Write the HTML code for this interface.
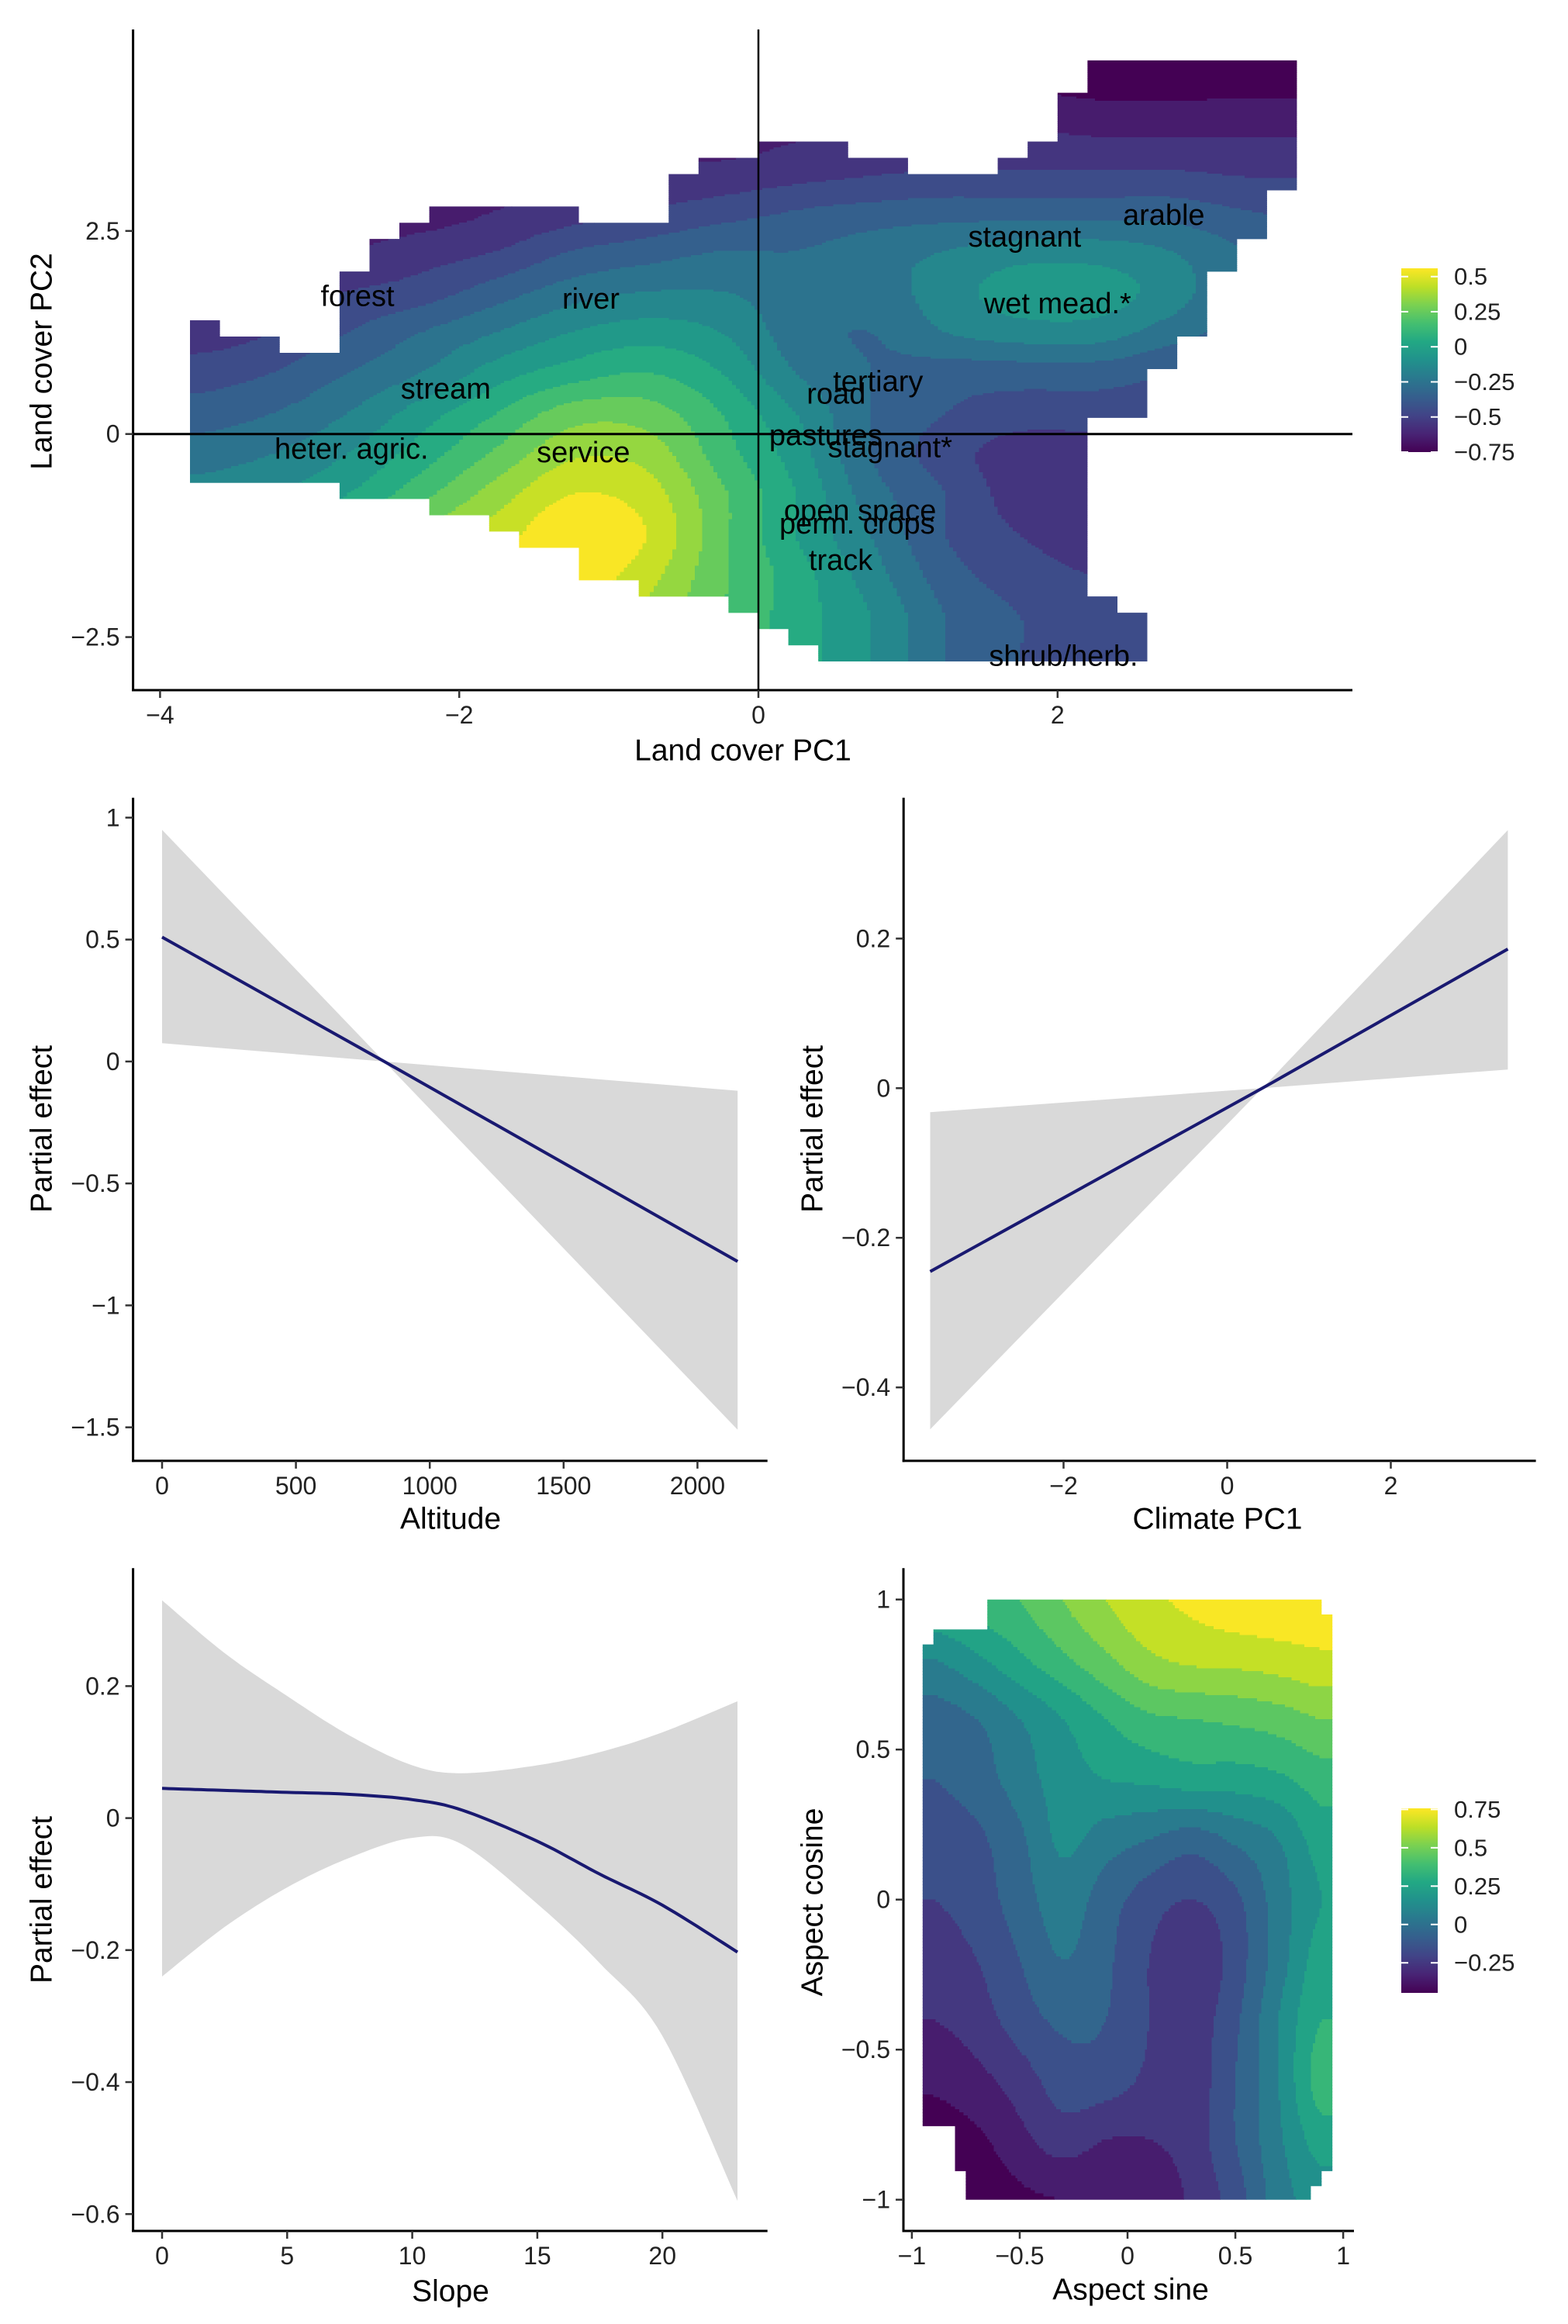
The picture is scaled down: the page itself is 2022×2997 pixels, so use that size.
<!DOCTYPE html>
<html>
<head>
<meta charset="utf-8">
<style>
  html, body { margin:0; padding:0; background:#fff; }
  svg { display:block; font-family:"Liberation Sans", "DejaVu Sans", sans-serif; }
</style>
</head>
<body>
<svg id="fig" width="2022" height="2997" viewBox="0 0 2022 2997" xmlns="http://www.w3.org/2000/svg">
  <rect x="0" y="0" width="2022" height="2997" fill="#ffffff"/>
  <defs>
    <linearGradient id="vir" x1="0" y1="1" x2="0" y2="0">
      <stop offset="0" stop-color="#440154"/><stop offset="0.1" stop-color="#482475"/>
      <stop offset="0.2" stop-color="#414487"/><stop offset="0.3" stop-color="#355f8d"/>
      <stop offset="0.4" stop-color="#2a788e"/><stop offset="0.5" stop-color="#21918c"/>
      <stop offset="0.6" stop-color="#22a884"/><stop offset="0.7" stop-color="#44bf70"/>
      <stop offset="0.8" stop-color="#7ad151"/><stop offset="0.9" stop-color="#bddf26"/>
      <stop offset="1" stop-color="#fde725"/>
    </linearGradient>
  </defs>
  <g id="layer"></g>
</svg>
<script>
// ---------------- DATA ----------------
const lcX = [-3.75,-3.25,-2.75,-2.25,-1.75,-1.25,-0.75,-0.25,0.25,0.75,1.25,1.75,2.25,2.75,3.25,3.75];
const lcY = [4.25,3.75,3.25,2.75,2.25,1.75,1.25,0.75,0.25,-0.25,-0.75,-1.25,-1.75,-2.25,-2.75];
const lcZ = [
 [-.6,-.6,-.65,-.7,-.7,-.7,-.7,-.7,-.7,-.7,-.7,-.7,-.72,-.72,-.72,-.72],
 [-.6,-.6,-.65,-.7,-.7,-.65,-.65,-.65,-.62,-.6,-.6,-.6,-.62,-.62,-.62,-.62],
 [-.6,-.6,-.65,-.68,-.65,-.6,-.58,-.58,-.55,-.52,-.5,-.5,-.5,-.5,-.52,-.52],
 [-.6,-.6,-.65,-.65,-.6,-.55,-.5,-.45,-.4,-.37,-.35,-.35,-.35,-.35,-.4,-.42],
 [-.62,-.6,-.6,-.55,-.5,-.4,-.35,-.3,-.3,-.25,-.2,-.15,-.15,-.2,-.3,-.35],
 [-.6,-.55,-.5,-.45,-.35,-.25,-.2,-.2,-.25,-.25,-.15,-.05,-.05,-.15,-.3,-.35],
 [-.55,-.5,-.4,-.3,-.2,-.1,-.05,-.1,-.25,-.3,-.2,-.15,-.15,-.25,-.35,-.4],
 [-.45,-.4,-.3,-.2,-.05,.05,.1,0,-.2,-.3,-.35,-.35,-.35,-.4,-.45,-.45],
 [-.35,-.3,-.2,-.05,.1,.25,.25,.1,-.1,-.3,-.4,-.45,-.45,-.45,-.5,-.5],
 [-.25,-.2,-.1,.05,.22,.38,.36,.15,-.05,-.3,-.45,-.55,-.55,-.55,-.55,-.55],
 [-.15,-.1,0,.17,.35,.5,.45,.22,0,-.25,-.4,-.55,-.6,-.6,-.6,-.6],
 [-.05,0,.15,.32,.45,.58,.5,.23,0,-.2,-.4,-.5,-.55,-.55,-.55,-.55],
 [0,.05,.2,.37,.5,.56,.44,.22,.05,-.15,-.35,-.45,-.5,-.5,-.5,-.5],
 [0,.05,.2,.32,.42,.47,.37,.2,.05,-.1,-.3,-.4,-.45,-.5,-.5,-.5],
 [0,.05,.2,.3,.35,.4,.3,.15,.05,-.1,-.3,-.4,-.45,-.5,-.5,-.5]
];
const lcLabels = ["forest","river","stagnant","arable","wet mead.*","stream","tertiary","road","heter. agric.","service","pastures","stagnant*","open space","perm. crops","track","shrub/herb."];
const lcLabelX = [-2.68,-1.12,1.78,2.71,2.0,-2.09,0.8,0.52,-2.72,-1.17,0.45,0.88,0.68,0.66,0.55,2.04];
const lcLabelY = [1.69,1.66,2.42,2.69,1.6,0.55,0.64,0.49,-0.19,-0.23,-0.02,-0.17,-0.95,-1.11,-1.56,-2.74];
const lcXTicks = [-4,-2,0,2];
const lcXTickLabels = ["\u22124","\u22122","0","2"];
const lcYTicks = [2.5,0,-2.5];
const lcYTickLabels = ["2.5","0","\u22122.5"];
const lcLegendVals = [0.5,0.25,0,-0.25,-0.5,-0.75];
const lcLegendLabels = ["0.5","0.25","0","\u22120.25","\u22120.5","\u22120.75"];

const altX = [0, 830, 2150];
const altFit = [0.51, 0.0, -0.82];
const altUpper = [0.95, 0.0, -0.12];
const altLower = [0.075, 0.0, -1.51];
const altXTicks = [0,500,1000,1500,2000];
const altXTickLabels = ["0","500","1000","1500","2000"];
const altYTicks = [1,0.5,0,-0.5,-1,-1.5];
const altYTickLabels = ["1","0.5","0","\u22120.5","\u22121","\u22121.5"];

const climX = [-3.63, 0.43, 3.43];
const climFit = [-0.245, 0.0, 0.186];
const climUpper = [-0.032, 0.0, 0.345];
const climLower = [-0.456, 0.0, 0.025];
const climXTicks = [-2,0,2];
const climXTickLabels = ["\u22122","0","2"];
const climYTicks = [0.2,0,-0.2,-0.4];
const climYTickLabels = ["0.2","0","\u22120.2","\u22120.4"];

const slopeX = [0,2.5,5,7.5,10,12,15,17.5,20,23];
const slopeFit = [0.045,0.042,0.039,0.036,0.028,0.012,-0.035,-0.085,-0.132,-0.203];
const slopeUpper = [0.33,0.25,0.185,0.125,0.08,0.068,0.08,0.1,0.13,0.177];
const slopeLower = [-0.24,-0.165,-0.105,-0.06,-0.03,-0.04,-0.13,-0.22,-0.33,-0.58];
const slopeXTicks = [0,5,10,15,20];
const slopeXTickLabels = ["0","5","10","15","20"];
const slopeYTicks = [0.2,0,-0.2,-0.4,-0.6];
const slopeYTickLabels = ["0.2","0","\u22120.2","\u22120.4","\u22120.6"];

const asX = [-0.9,-0.7,-0.5,-0.3,-0.1,0.1,0.3,0.5,0.7,0.9];
const asY = [1.0,0.8,0.6,0.4,0.2,0.0,-0.2,-0.4,-0.6,-0.8,-1.0];
const asZ = [
 [0.3,0.35,0.4,0.5,0.6,0.68,0.72,0.76,0.78,0.76],
 [0.1,0.18,0.28,0.38,0.48,0.58,0.62,0.63,0.65,0.68],
 [-0.05,0.0,0.1,0.2,0.3,0.38,0.4,0.42,0.45,0.5],
 [-0.1,-0.05,0.05,0.15,0.2,0.22,0.25,0.25,0.28,0.35],
 [-0.15,-0.12,-0.02,0.12,0.05,0.0,-0.05,0.02,0.1,0.25],
 [-0.2,-0.15,-0.05,0.05,-0.05,-0.15,-0.2,-0.12,0.05,0.2],
 [-0.25,-0.2,-0.1,0.0,-0.08,-0.2,-0.28,-0.15,0.05,0.25],
 [-0.3,-0.25,-0.15,-0.08,-0.1,-0.2,-0.25,-0.12,0.1,0.3],
 [-0.38,-0.33,-0.25,-0.15,-0.15,-0.22,-0.25,-0.1,0.1,0.35],
 [-0.45,-0.42,-0.33,-0.25,-0.3,-0.3,-0.25,-0.1,0.08,0.25],
 [-0.5,-0.48,-0.42,-0.4,-0.4,-0.38,-0.28,-0.15,0.05,0.15]
];
const asXTicks = [-1,-0.5,0,0.5,1];
const asXTickLabels = ["\u22121","\u22120.5","0","0.5","1"];
const asYTicks = [1,0.5,0,-0.5,-1];
const asYTickLabels = ["1","0.5","0","\u22120.5","\u22121"];
const asLegendVals = [0.75,0.5,0.25,0,-0.25];
const asLegendLabels = ["0.75","0.5","0.25","0","\u22120.25"];

// ---------------- RENDER ----------------
const NS = "http://www.w3.org/2000/svg";
const layer = document.getElementById("layer");
function mk(tag, attrs, parent) {
  const e = document.createElementNS(NS, tag);
  for (const k in attrs) e.setAttribute(k, attrs[k]);
  (parent || layer).appendChild(e);
  return e;
}
const VS = ["#440154","#482475","#414487","#355f8d","#2a788e","#21918c","#22a884","#44bf70","#7ad151","#bddf26","#fde725"];
function hex(c){return [parseInt(c.substr(1,2),16),parseInt(c.substr(3,2),16),parseInt(c.substr(5,2),16)];}
function viridis(t){
  t=Math.max(0,Math.min(1,t)); const p=t*10; const i=Math.min(9,Math.floor(p)); const f=p-i;
  const a=hex(VS[i]), b=hex(VS[i+1]);
  return "rgb("+a.map((v,k)=>Math.round(v+(b[k]-v)*f)).join(",")+")";
}
function cr(p0,p1,p2,p3,t){
  return 0.5*((2*p1)+(-p0+p2)*t+(2*p0-5*p1+4*p2-p3)*t*t+(-p0+3*p1-3*p2+p3)*t*t*t);
}
function sampleGrid(xs, ys, Z, x, y){
  const nx=xs.length, ny=ys.length;
  let fxi=(x-xs[0])/(xs[1]-xs[0]); fxi=Math.max(0,Math.min(nx-1,fxi));
  let fyi=(y-ys[0])/(ys[1]-ys[0]); fyi=Math.max(0,Math.min(ny-1,fyi));
  let i=Math.min(nx-2,Math.floor(fxi)), j=Math.min(ny-2,Math.floor(fyi));
  const tx=fxi-i, ty=fyi-j;
  const ci=k=>Math.max(0,Math.min(nx-1,k)), cj=k=>Math.max(0,Math.min(ny-1,k));
  const rows=[];
  for(let m=-1;m<=2;m++){
    const R=Z[cj(j+m)];
    rows.push(cr(R[ci(i-1)],R[ci(i)],R[ci(i+1)],R[ci(i+2)],tx));
  }
  return cr(rows[0],rows[1],rows[2],rows[3],ty);
}
function linScale(d0,d1,r0,r1){ return v => r0+(v-d0)*(r1-r0)/(d1-d0); }

function axes(g, box, X, Y, xt, xtl, yt, ytl, name){
  mk("line",{x1:box.l,y1:box.t,x2:box.l,y2:box.b+1.5,stroke:"#000","stroke-width":3,},g);
  mk("line",{x1:box.l-1.5,y1:box.b,x2:box.r,y2:box.b,stroke:"#000","stroke-width":3,},g);
  xt.forEach((v,i)=>{
    const x=X(v);
    mk("line",{x1:x,y1:box.b,x2:x,y2:box.b+10,stroke:"#333","stroke-width":2.5,},g);
    const t=mk("text",{x:x,y:box.b+32,"font-size":32,"text-anchor":"middle","dominant-baseline":"central",fill:"#222",},g);
    t.textContent=xtl[i];
  });
  yt.forEach((v,i)=>{
    const y=Y(v);
    mk("line",{x1:box.l-10,y1:y,x2:box.l,y2:y,stroke:"#333","stroke-width":2.5,},g);
    const t=mk("text",{x:box.l-17,y:y,"font-size":32,"text-anchor":"end","dominant-baseline":"central",fill:"#222",},g);
    t.textContent=ytl[i];
  });
}
function title(g, txt, x, y, rot, name){
  const t=mk("text",{x:x,y:y,"font-size":39,"text-anchor":"middle","dominant-baseline":"central",fill:"#000",},g);
  if(rot) t.setAttribute("transform","rotate(-90 "+x+" "+y+")");
  t.textContent=txt;
}
function surface(g, clipId, poly, X, Y, xs, ys, Z, x0, x1, y0, y1, step, lo, bandStep, legLo, legHi, name){
  const cp=mk("clipPath",{id:clipId},g);
  mk("polygon",{points:poly.map(p=>X(p[0]).toFixed(1)+","+Y(p[1]).toFixed(1)).join(" ")},cp);
  const sg=mk("g",{"clip-path":"url(#"+clipId+")",},g);
  const nx=Math.round((x1-x0)/step), ny=Math.round((y1-y0)/step);
  for(let r=0;r<ny;r++){
    const yc=y1-(r+0.5)*step;
    const cols=[];
    for(let c=0;c<nx;c++){
      const xc=x0+(c+0.5)*step;
      const v=sampleGrid(xs,ys,Z,xc,yc);
      const b=Math.floor((v-lo)/bandStep);
      const center=lo+(b+0.5)*bandStep;
      cols.push(viridis((center-legLo)/(legHi-legLo)));
    }
    let runStart=0, runCol=cols[0];
    for(let c=1;c<=nx;c++){
      if(c===nx || cols[c]!==runCol){
        const xa=X(x0+runStart*step), xb=X(x0+c*step);
        const ya=Y(y1-r*step), yb=Y(y1-(r+1)*step);
        const rc=mk("rect",{x:xa.toFixed(2),y:(ya-0.4).toFixed(2),width:(xb-xa+0.6).toFixed(2),height:(yb-ya+0.8).toFixed(2),fill:runCol,"shape-rendering":"crispEdges"},sg);
        
        
        runStart=c; runCol=cols[c];
      }
    }
  }
}
function legend(g, top, bot, vals, labels, legLo, legHi, name){
  const x0=1807, w=47;
  mk("rect",{x:x0,y:top,width:w,height:bot-top,fill:"url(#vir)",},g);
  const V=linScale(legLo,legHi,bot,top);
  vals.forEach((v,i)=>{
    const y=V(v);
    mk("line",{x1:x0,y1:y,x2:x0+9,y2:y,stroke:"#fff","stroke-width":2,},g);
    mk("line",{x1:x0+w-9,y1:y,x2:x0+w,y2:y,stroke:"#fff","stroke-width":2,},g);
    const t=mk("text",{x:1875,y:y,"font-size":31,"dominant-baseline":"central",fill:"#222",},g);
    t.textContent=labels[i];
  });
}
function smoothPts(pts){
  // Catmull-Rom through points
  if(pts.length<3) return pts;
  const out=[];
  for(let i=0;i<pts.length-1;i++){
    const p0=pts[Math.max(0,i-1)], p1=pts[i], p2=pts[i+1], p3=pts[Math.min(pts.length-1,i+2)];
    for(let s=0;s<12;s++){
      const t=s/12;
      out.push([cr(p0[0],p1[0],p2[0],p3[0],t),cr(p0[1],p1[1],p2[1],p3[1],t)]);
    }
  }
  out.push(pts[pts.length-1]);
  return out;
}
function bandPanel(g, X, Y, xs, fit, up, low, name, smooth){
  let ptsU=xs.map((x,i)=>[X(x),Y(up[i])]);
  let ptsL=xs.map((x,i)=>[X(x),Y(low[i])]);
  let ptsF=xs.map((x,i)=>[X(x),Y(fit[i])]);
  if(smooth){ ptsU=smoothPts(ptsU); ptsL=smoothPts(ptsL); ptsF=smoothPts(ptsF); }
  const d="M"+ptsU.concat(ptsL.slice().reverse()).map(p=>p[0].toFixed(1)+","+p[1].toFixed(1)).join("L")+"Z";
  mk("path",{d:d,fill:"#d9d9d9",stroke:"none",},g);
  const dl="M"+ptsF.map(p=>p[0].toFixed(1)+","+p[1].toFixed(1)).join("L");
  mk("path",{d:dl,fill:"none",stroke:"#191970","stroke-width":4,"stroke-linejoin":"round",},g);
}

// ---- Panel 1: land cover ----
(function(){
  const g=mk("g",{});
  const X=linScale(0,1,978,978+192.9), Y=linScale(0,1,559.7,559.7-104.75);
  const box={l:171.6,t:38,b:890,r:1744};
  const poly=[[-3.8,-0.6],[-3.8,1.4],[-3.6,1.4],[-3.6,1.2],[-3.2,1.2],[-3.2,1.0],[-2.8,1.0],[-2.8,2.0],[-2.6,2.0],[-2.6,2.4],[-2.4,2.4],[-2.4,2.6],[-2.2,2.6],[-2.2,2.8],[-1.2,2.8],[-1.2,2.6],[-0.6,2.6],[-0.6,3.2],[-0.4,3.2],[-0.4,3.4],[0,3.4],[0,3.6],[0.6,3.6],[0.6,3.4],[1.0,3.4],[1.0,3.2],[1.6,3.2],[1.6,3.4],[1.8,3.4],[1.8,3.6],[2.0,3.6],[2.0,4.2],[2.2,4.2],[2.2,4.6],[3.6,4.6],[3.6,3.0],[3.4,3.0],[3.4,2.4],[3.2,2.4],[3.2,2.0],[3.0,2.0],[3.0,1.2],[2.8,1.2],[2.8,0.8],[2.6,0.8],[2.6,0.2],[2.2,0.2],[2.2,-2.0],[2.4,-2.0],[2.4,-2.2],[2.6,-2.2],[2.6,-2.8],[0.4,-2.8],[0.4,-2.6],[0.2,-2.6],[0.2,-2.4],[0,-2.4],[0,-2.2],[-0.2,-2.2],[-0.2,-2.0],[-0.8,-2.0],[-0.8,-1.8],[-1.2,-1.8],[-1.2,-1.4],[-1.6,-1.4],[-1.6,-1.2],[-1.8,-1.2],[-1.8,-1.0],[-2.2,-1.0],[-2.2,-0.8],[-2.8,-0.8],[-2.8,-0.6]];
  surface(g,"clipLC",poly,X,Y,lcX,lcY,lcZ,-3.8,3.6,-2.8,4.6,0.025,-0.8,0.1,-0.75,0.559,"land-cover-surface");
  mk("line",{x1:X(0),y1:box.t,x2:X(0),y2:box.b,stroke:"#000","stroke-width":2.5,},g);
  mk("line",{x1:box.l,y1:Y(0),x2:box.r,y2:Y(0),stroke:"#000","stroke-width":3,},g);
  lcLabels.forEach((s,i)=>{
    const t=mk("text",{x:X(lcLabelX[i]),y:Y(lcLabelY[i]),"font-size":38,"text-anchor":"middle","dominant-baseline":"central",fill:"#000"},g);
    
    
    t.textContent=s;
  });
  axes(g,box,X,Y,lcXTicks,lcXTickLabels,lcYTicks,lcYTickLabels,"land-cover");
  title(g,"Land cover PC1",958,968,false,"x-axis-title-land-cover-pc1");
  title(g,"Land cover PC2",54,466,true,"y-axis-title-land-cover-pc2");
  legend(g,346,583,lcLegendVals,lcLegendLabels,-0.75,0.559,"land-cover-legend");
})();

// ---- Panel 2: altitude ----
(function(){
  const g=mk("g",{});
  const X=linScale(0,1,209,209+0.3452), Y=linScale(0,1,1368.9,1368.9-314.5);
  const box={l:171.6,t:1028.7,b:1883.9,r:989.7};
  bandPanel(g,X,Y,altX,altFit,altUpper,altLower,"altitude",false);
  axes(g,box,X,Y,altXTicks,altXTickLabels,altYTicks,altYTickLabels,"altitude");
  title(g,"Altitude",581,1959,false,"x-axis-title-altitude");
  title(g,"Partial effect",54,1456,true,"y-axis-title-altitude");
})();

// ---- Panel 3: climate ----
(function(){
  const g=mk("g",{});
  const X=linScale(0,1,1582.5,1582.5+105.5), Y=linScale(0,1,1403.3,1403.3-964.7);
  const box={l:1165.2,t:1028.7,b:1883.9,r:1980.6};
  bandPanel(g,X,Y,climX,climFit,climUpper,climLower,"climate",false);
  axes(g,box,X,Y,climXTicks,climXTickLabels,climYTicks,climYTickLabels,"climate");
  title(g,"Climate PC1",1570,1959,false,"x-axis-title-climate-pc1");
  title(g,"Partial effect",1048,1456,true,"y-axis-title-climate");
})();

// ---- Panel 4: slope ----
(function(){
  const g=mk("g",{});
  const X=linScale(0,1,209,209+32.26), Y=linScale(0,1,2344.6,2344.6-851.1);
  const box={l:171.6,t:2022.3,b:2877,r:989.7};
  bandPanel(g,X,Y,slopeX,slopeFit,slopeUpper,slopeLower,"slope",true);
  axes(g,box,X,Y,slopeXTicks,slopeXTickLabels,slopeYTicks,slopeYTickLabels,"slope");
  title(g,"Slope",581,2955,false,"x-axis-title-slope");
  title(g,"Partial effect",54,2450,true,"y-axis-title-slope");
})();

// ---- Panel 5: aspect ----
(function(){
  const g=mk("g",{});
  const X=linScale(0,1,1454,1454+278.1), Y=linScale(0,1,2449.7,2449.7-387);
  const box={l:1165,t:2022.3,b:2877,r:1746};
  const poly=[[-0.65,1],[0.9,1],[0.9,0.95],[0.95,0.95],[0.95,-0.905],[0.9,-0.905],[0.9,-0.955],[0.85,-0.955],[0.85,-1],[-0.75,-1],[-0.75,-0.905],[-0.8,-0.905],[-0.8,-0.755],[-0.95,-0.755],[-0.95,0.85],[-0.9,0.85],[-0.9,0.9],[-0.65,0.9]];
  surface(g,"clipAS",poly,X,Y,asX,asY,asZ,-0.96,0.96,-1.0,1.0,0.01,-0.5,0.1,-0.446,0.757,"aspect-surface");
  axes(g,box,X,Y,asXTicks,asXTickLabels,asYTicks,asYTickLabels,"aspect");
  title(g,"Aspect sine",1458,2953,false,"x-axis-title-aspect-sine");
  title(g,"Aspect cosine",1048,2453,true,"y-axis-title-aspect-cosine");
  legend(g,2332,2570,asLegendVals,asLegendLabels,-0.446,0.757,"aspect-legend");
})();
</script>
</body>
</html>
